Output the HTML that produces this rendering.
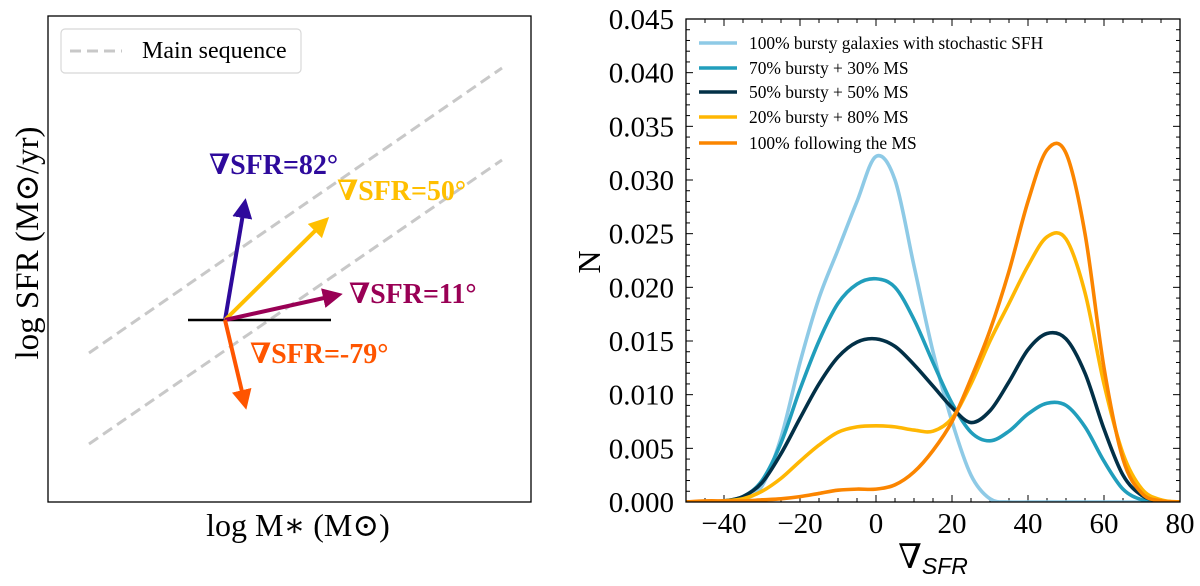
<!DOCTYPE html>
<html><head><meta charset="utf-8">
<style>
html,body{margin:0;padding:0;background:#fff;}
svg{display:block;font-family:"Liberation Serif","DejaVu Serif",serif;}
</style></head>
<body>
<svg id="fig" width="1200" height="586" viewBox="0 0 1200 586" xmlns="http://www.w3.org/2000/svg">
<defs>
<marker id="ah-purple" markerWidth="5" markerHeight="5" refX="2.5" refY="2.5" orient="auto" markerUnits="strokeWidth"><path d="M0,0 L5,2.5 L0,5 z" fill="#2e0a9c"/></marker>
<marker id="ah-yellow" markerWidth="5" markerHeight="5" refX="2.5" refY="2.5" orient="auto" markerUnits="strokeWidth"><path d="M0,0 L5,2.5 L0,5 z" fill="#ffbf00"/></marker>
<marker id="ah-maroon" markerWidth="5" markerHeight="5" refX="2.5" refY="2.5" orient="auto" markerUnits="strokeWidth"><path d="M0,0 L5,2.5 L0,5 z" fill="#990055"/></marker>
<marker id="ah-orange" markerWidth="5" markerHeight="5" refX="2.5" refY="2.5" orient="auto" markerUnits="strokeWidth"><path d="M0,0 L5,2.5 L0,5 z" fill="#ff5500"/></marker>
</defs>
<g>
<rect x="48" y="16" width="483" height="486" fill="none" stroke="#000" stroke-width="1.3"/>
<line x1="89" y1="353" x2="502" y2="68" stroke="#c8c8c8" stroke-width="3" stroke-dasharray="11,6"/>
<line x1="89" y1="444" x2="502" y2="160" stroke="#c8c8c8" stroke-width="3" stroke-dasharray="11,6"/>
<line x1="188" y1="320" x2="331" y2="320" stroke="#000" stroke-width="2.5"/>
<line x1="225" y1="320" x2="244" y2="208" stroke="#2e0a9c" stroke-width="4" marker-end="url(#ah-purple)"/>
<line x1="225" y1="320" x2="322" y2="224" stroke="#ffbf00" stroke-width="4" marker-end="url(#ah-yellow)"/>
<line x1="225" y1="320" x2="333" y2="296" stroke="#990055" stroke-width="4" marker-end="url(#ah-maroon)"/>
<line x1="225" y1="320" x2="244" y2="400" stroke="#ff5500" stroke-width="4" marker-end="url(#ah-orange)"/>
<g font-weight="bold" font-size="28">
<text x="209" y="174" fill="#2e0a9c">∇SFR=82°</text>
<text x="337" y="200" fill="#ffbf00">∇SFR=50°</text>
<text x="349" y="303" fill="#990055">∇SFR=11°</text>
<text x="250" y="363" fill="#ff5500">∇SFR=-79°</text>
</g>
<g>
<rect x="61" y="29" width="240" height="44" rx="4" fill="#fff" stroke="#d8d8d8" stroke-width="1.2"/>
<line x1="70" y1="51" x2="122" y2="51" stroke="#c8c8c8" stroke-width="3" stroke-dasharray="11,6"/>
<text x="142" y="58" font-size="24">Main sequence</text>
</g>
<text x="298" y="536" font-size="32" text-anchor="middle">log M∗ (M⊙)</text>
<text transform="translate(38,243) rotate(-90)" font-size="33" text-anchor="middle">log SFR (M⊙/yr)</text>
</g>
<g id="right"></g>
</svg>
<script>
const xValues=[-50,-45,-40,-35,-30,-25,-20,-15,-10,-5,0,5,10,15,20,25,30,35,40,45,50,55,60,65,70,75,80];
const seriesBursty100=[0,0,0,0.0002,0.0015,0.006,0.013,0.019,0.0235,0.028,0.0322,0.030,0.022,0.014,0.0075,0.0025,0.0003,0,0,0,0,0,0,0,0,0,0];
const seriesBursty70=[0,0,0.0001,0.0005,0.002,0.0055,0.0105,0.015,0.0185,0.0203,0.0208,0.020,0.017,0.013,0.0092,0.0065,0.0057,0.0066,0.0082,0.0092,0.009,0.007,0.0038,0.0012,0.0002,0,0];
const seriesBursty50=[0,0,0.0001,0.0005,0.0018,0.0045,0.0078,0.011,0.0135,0.0149,0.0152,0.0145,0.0128,0.0108,0.0088,0.0074,0.0085,0.0112,0.0142,0.0157,0.0152,0.012,0.0068,0.0025,0.0006,0.0001,0];
const seriesBursty20=[0,0,0.0001,0.0003,0.001,0.0022,0.0038,0.0053,0.0065,0.007,0.0071,0.007,0.0067,0.0066,0.0078,0.011,0.015,0.0185,0.022,0.0247,0.0245,0.0195,0.011,0.0045,0.0012,0.0002,0];
const seriesMS100=[0,0.0001,0.0001,0.0001,0.0002,0.0003,0.0005,0.0008,0.0011,0.0012,0.0012,0.0016,0.0028,0.0048,0.0075,0.0115,0.016,0.0215,0.028,0.0328,0.0325,0.025,0.0125,0.004,0.0008,0.0001,0];
const seriesNames=["100% bursty galaxies with stochastic SFH","70% bursty + 30% MS","50% bursty + 50% MS","20% bursty + 80% MS","100% following the MS"];
const seriesColors=["#8ecae6","#219ebc","#023047","#ffb703","#fb8500"];
const xTicks=[-40,-20,0,20,40,60,80];
const yTicks=[0,0.005,0.01,0.015,0.02,0.025,0.03,0.035,0.04,0.045];
const yTickLabels=["0.000","0.005","0.010","0.015","0.020","0.025","0.030","0.035","0.040","0.045"];

const NS="http://www.w3.org/2000/svg";
const L=686,R=1180,T=19,B=502;
const xMin=-50,xMax=80,yMin=0,yMax=0.045;
function sx(v){return L+(v-xMin)/(xMax-xMin)*(R-L);}
function sy(v){return B-(v-yMin)/(yMax-yMin)*(B-T);}
const g=document.getElementById('right');
function mk(tag,attrs,parent){const e=document.createElementNS(NS,tag);for(const k in attrs)e.setAttribute(k,attrs[k]);(parent||g).appendChild(e);return e;}

const clip=mk('clipPath',{id:'plotclip'});
mk('rect',{x:L,y:T,width:R-L,height:B-T},clip);

for(let v=-50;v<=80;v+=5){
  const major=(v%20===0);
  const t=mk('line',{x1:sx(v),x2:sx(v),y1:B,y2:B-(major?7:4),stroke:'#000','stroke-width':1});
  
  
  const t2=mk('line',{x1:sx(v),x2:sx(v),y1:T,y2:T+(major?7:4),stroke:'#000','stroke-width':1});
  
  
}
for(let i=0;i<=45;i++){
  const v=i*0.001;const major=(i%5===0);
  const t=mk('line',{x1:L,x2:L+(major?7:4),y1:sy(v),y2:sy(v),stroke:'#000','stroke-width':1});
  
  
  const t2=mk('line',{x1:R,x2:R-(major?7:4),y1:sy(v),y2:sy(v),stroke:'#000','stroke-width':1});
  
  
}
xTicks.forEach(v=>{
  const t=mk('text',{x:sx(v),y:B+31,'font-size':29,'text-anchor':'middle'});
  t.textContent=(v<0?'−'+(-v):String(v));
  
  
});
yTicks.forEach((v,i)=>{
  const t=mk('text',{x:L-12,y:sy(v)+10,'font-size':29,'text-anchor':'end'});
  t.textContent=yTickLabels[i];
  
  
});

function pathFor(ys){
  const pts=xValues.map((x,i)=>[sx(x),sy(ys[i])]);
  let d='M'+pts[0][0]+','+pts[0][1];
  for(let i=0;i<pts.length-1;i++){
    const p0=pts[Math.max(0,i-1)],p1=pts[i],p2=pts[i+1],p3=pts[Math.min(pts.length-1,i+2)];
    const c1=[p1[0]+(p2[0]-p0[0])/6,p1[1]+(p2[1]-p0[1])/6];
    const c2=[p2[0]-(p3[0]-p1[0])/6,p2[1]-(p3[1]-p1[1])/6];
    d+=' C'+c1[0]+','+c1[1]+' '+c2[0]+','+c2[1]+' '+p2[0]+','+p2[1];
  }
  return d;
}
const allSeries=[seriesBursty100,seriesBursty70,seriesBursty50,seriesBursty20,seriesMS100];
const curveNames=['curve-bursty-100','curve-bursty-70','curve-bursty-50','curve-bursty-20','curve-ms-100'];
allSeries.forEach((ys,i)=>{
  const p=mk('path',{d:pathFor(ys),fill:'none',stroke:seriesColors[i],'stroke-width':3.6,'clip-path':'url(#plotclip)','stroke-linejoin':'round'});
  
  
});

const fr=mk('rect',{x:L,y:T,width:R-L,height:B-T,fill:'none',stroke:'#000','stroke-width':1.3});



const legY=[43,68,92,117,143];
seriesNames.forEach((n,i)=>{
  const ln=mk('line',{x1:699,x2:737,y1:legY[i],y2:legY[i],stroke:seriesColors[i],'stroke-width':3.6});
  
  
  const t=mk('text',{x:749,y:legY[i]+6,'font-size':17.4});
  t.textContent=n;
  
  
});

const yt=mk('text',{transform:'translate(600,262) rotate(-90)','font-size':32,'text-anchor':'middle'});
yt.textContent='N';


const xt=mk('text',{x:933,y:568,'font-size':34,'text-anchor':'middle'});


const s1=mk('tspan',{},xt);s1.textContent='∇';
const s2=mk('tspan',{'font-family':'Liberation Sans, DejaVu Sans, sans-serif','font-style':'italic','font-size':23,dy:6},xt);s2.textContent='SFR';
</script>
</body></html>
